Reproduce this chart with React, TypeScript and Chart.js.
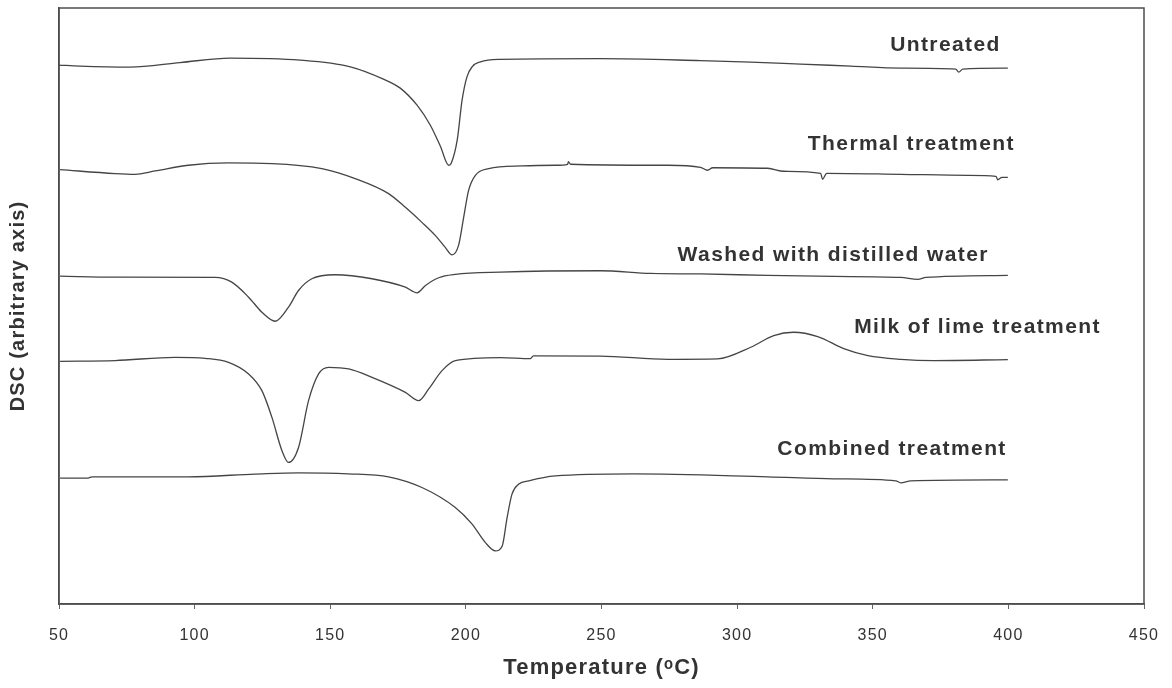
import React, { useEffect, useRef } from "react";
import { Chart, registerables } from "chart.js";

Chart.register(...registerables);

// ---- Data (temperature in °C, DSC in arbitrary units) ----
const untreatedT = [50.0, 57.7, 76.2, 94.6, 113.1, 138.9, 157.4, 169.6, 175.8, 182.0, 186.9, 190.6, 193.7, 194.6, 196.8, 198.6, 200.4, 202.3, 205.4, 212.7, 249.6, 286.5, 305.0, 323.4, 341.9, 360.3, 380.6, 381.7, 383.2, 399.8];
const untreatedDSC = [53.8, 53.7, 53.6, 54.05, 54.5, 54.3, 53.63, 52.4, 51.5, 49.8, 47.8, 45.7, 43.8, 44.0, 46.3, 50.3, 52.63, 53.63, 54.13, 54.37, 54.45, 54.25, 54.1, 53.9, 53.7, 53.5, 53.4, 53.1, 53.4, 53.5];

const thermalT = [50.4, 70.7, 78.0, 85.4, 97.7, 112.5, 128.5, 146.9, 159.2, 171.5, 177.7, 183.8, 188.7, 192.4, 194.9, 197.3, 199.2, 201.0, 203.5, 208.4, 220.7, 233.0, 237.5, 237.8, 238.6, 274.4, 286.5, 289.1, 291.0, 311.3, 317.2, 330.8, 331.5, 333.0, 360.3, 385.1, 395.4, 396.1, 397.6, 399.8];
const thermalDSC = [43.37, 42.97, 42.9, 43.23, 43.8, 44.03, 43.97, 43.47, 42.47, 40.97, 39.6, 38.1, 36.8, 35.6, 34.85, 35.8, 38.63, 41.3, 42.8, 43.47, 43.73, 43.8, 43.9, 44.15, 43.9, 43.8, 43.6, 43.3, 43.55, 43.5, 43.2, 43.0, 42.4, 43.0, 42.9, 42.8, 42.7, 42.35, 42.6, 42.6];

const washedT = [50.4, 70.7, 107.6, 113.7, 119.9, 124.8, 129.7, 134.6, 138.3, 143.2, 151.8, 165.4, 177.7, 182.0, 185.1, 190.0, 196.1, 212.7, 249.6, 268.1, 286.5, 311.3, 335.6, 360.3, 366.6, 369.6, 399.8];
const washedDSC = [32.73, 32.63, 32.6, 32.13, 30.63, 29.13, 28.23, 29.63, 31.3, 32.47, 32.87, 32.47, 31.63, 31.07, 31.8, 32.57, 32.9, 33.13, 33.27, 33.0, 32.95, 32.8, 32.7, 32.6, 32.4, 32.6, 32.8];

const limeT = [50.4, 70.7, 92.8, 103.9, 112.5, 119.9, 124.8, 128.5, 132.2, 134.6, 138.3, 142.0, 145.7, 149.4, 156.8, 165.4, 177.7, 182.6, 186.3, 191.2, 196.1, 212.7, 223.8, 224.9, 249.6, 274.4, 292.8, 305.0, 313.5, 320.8, 329.7, 339.3, 348.2, 360.3, 372.5, 399.8];
const limeDSC = [24.23, 24.3, 24.63, 24.53, 24.13, 22.97, 21.3, 18.63, 15.3, 14.13, 15.63, 20.3, 22.97, 23.63, 23.47, 22.63, 21.13, 20.3, 21.47, 23.3, 24.3, 24.6, 24.5, 24.77, 24.75, 24.43, 24.47, 25.63, 26.8, 27.13, 26.7, 25.5, 24.8, 24.43, 24.3, 24.4];

const combinedT = [50.4, 60.7, 62.2, 97.6, 122.3, 138.2, 156.6, 171.5, 183.8, 196.1, 202.3, 207.2, 210.9, 213.4, 215.2, 217.0, 219.5, 223.2, 233.0, 261.8, 311.3, 335.6, 358.5, 360.3, 364.0, 399.8];
const combinedDSC = [12.57, 12.57, 12.7, 12.7, 12.97, 13.1, 13.0, 12.7, 11.63, 9.63, 7.97, 6.13, 5.3, 5.8, 8.63, 10.97, 11.97, 12.3, 12.8, 13.0, 12.7, 12.5, 12.3, 12.1, 12.3, 12.4];

const seriesNames = ["Untreated", "Thermal treatment", "Washed with distilled water", "Milk of lime treatment", "Combined treatment"];
const labelT = [397.2, 402.4, 392.8, 434.1, 399.4];
const labelDSC = [55.8, 45.9, 34.8, 27.6, 15.5];

const xTicks = [50, 100, 150, 200, 250, 300, 350, 400, 450];

const toPoints = (t: number[], v: number[]) => t.map((x, i) => ({ x, y: v[i] }));

const FONT = "'Liberation Sans', Arial, Helvetica, sans-serif";
const LINE = "#454545";
const TEXT = "#333333";

const spacingPlugin = {
  id: "spacing",
  beforeDraw(chart: any) {
    chart.ctx.letterSpacing = "1.2px";
  },
};

const framePlugin = {
  id: "frame",
  afterDraw(chart: any) {
    const { ctx, chartArea } = chart;
    ctx.save();
    ctx.strokeStyle = "#4d4d4d";
    ctx.lineWidth = 1.5;
    ctx.strokeRect(chartArea.left, chartArea.top, chartArea.right - chartArea.left, chartArea.bottom - chartArea.top);
    ctx.restore();
  },
};

const labelPlugin = {
  id: "curveLabels",
  afterDatasetsDraw(chart: any) {
    const { ctx, scales } = chart;
    ctx.save();
    ctx.letterSpacing = "1.4px";
    ctx.font = `bold 21px ${FONT}`;
    ctx.fillStyle = TEXT;
    ctx.textAlign = "right";
    ctx.textBaseline = "middle";
    seriesNames.forEach((name, i) => {
      ctx.fillText(name, scales.x.getPixelForValue(labelT[i]), scales.y.getPixelForValue(labelDSC[i]));
    });
    ctx.restore();
  },
};

export default function App() {
  const ref = useRef<HTMLCanvasElement>(null);

  useEffect(() => {
    const canvas = ref.current;
    if (!canvas) return;
    const mk = (label: string, t: number[], v: number[]) => ({
      label,
      data: toPoints(t, v),
      borderColor: LINE,
      borderWidth: 1.3,
      pointRadius: 0,
      fill: false,
      cubicInterpolationMode: "monotone" as const,
    });
    const chart = new Chart(canvas, {
      type: "line",
      data: {
        datasets: [
          mk(seriesNames[0], untreatedT, untreatedDSC),
          mk(seriesNames[1], thermalT, thermalDSC),
          mk(seriesNames[2], washedT, washedDSC),
          mk(seriesNames[3], limeT, limeDSC),
          mk(seriesNames[4], combinedT, combinedDSC),
        ],
      },
      options: {
        responsive: false,
        animation: false,
        layout: { padding: { top: 8, right: 28, left: 0, bottom: 0 } },
        plugins: { legend: { display: false }, tooltip: { enabled: false } },
        scales: {
          x: {
            type: "linear",
            min: 50,
            max: 450,
            afterBuildTicks: (scale: any) => {
              scale.ticks = xTicks.map((value) => ({ value }));
            },
            afterFit: (scale: any) => {
              scale.height = 84;
              scale.paddingLeft = 0;
              scale.paddingRight = 0;
            },
            ticks: {
              font: { family: FONT, size: 16 },
              color: TEXT,
              padding: 17,
              maxRotation: 0,
            },
            grid: { display: true, drawOnChartArea: false, drawTicks: true, tickLength: 5, color: "#666" },
            border: { display: true, color: "#4d4d4d", width: 1.5 },
            title: {
              display: true,
              text: "Temperature (ᵒC)",
              font: { family: FONT, size: 22, weight: "bold" },
              color: TEXT,
              padding: { top: 0, bottom: 7 },
            },
          },
          y: {
            type: "linear",
            min: 0,
            max: 59.5,
            afterFit: (scale: any) => {
              scale.width = 59;
              scale.paddingTop = 0;
              scale.paddingBottom = 0;
            },
            ticks: { display: false },
            grid: { display: false },
            border: { display: true, color: "#4d4d4d", width: 1.5 },
            title: {
              display: true,
              text: "DSC (arbitrary axis)",
              font: { family: FONT, size: 20, weight: "bold" },
              color: TEXT,
              padding: { top: 6, bottom: 0 },
            },
          },
        },
      },
      plugins: [spacingPlugin, framePlugin, labelPlugin],
    } as any);
    return () => chart.destroy();
  }, []);

  return (
    <div style={{ position: "fixed", left: 0, top: 0, width: 1172, height: 688, background: "#fff" }}>
      <canvas ref={ref} width={1172} height={688} style={{ display: "block" }} />
    </div>
  );
}
